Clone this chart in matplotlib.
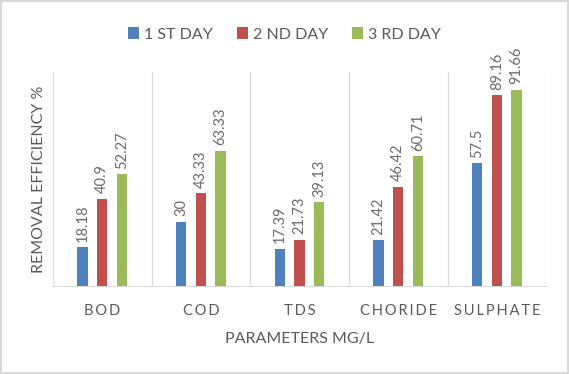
import numpy as np
import matplotlib.pyplot as plt
from matplotlib.patches import Rectangle

categories = ["BOD", "COD", "TDS", "CHORIDE", "SULPHATE"]
series_names = ["1 ST DAY", "2 ND DAY", "3 RD DAY"]
day1 = [18.18, 30, 17.39, 21.42, 57.5]
day2 = [40.9, 43.33, 21.73, 46.42, 89.16]
day3 = [52.27, 63.33, 39.13, 60.71, 91.66]
labels1 = ["18.18", "30", "17.39", "21.42", "57.5"]
labels2 = ["40.9", "43.33", "21.73", "46.42", "89.16"]
labels3 = ["52.27", "63.33", "39.13", "60.71", "91.66"]

colors = ["#4F81BD", "#C0504D", "#9BBB59"]
gray = "#595959"
plt.rcParams['font.family'] = ['Lato', 'DejaVu Sans']

fig = plt.figure(figsize=(5.69, 3.74), dpi=100)
ax = fig.add_axes([0.093, 0.235, 0.867, 0.572])

x = np.arange(len(categories))
width = 0.105
offset = 0.2
for i, (vals, labs) in enumerate(zip([day1, day2, day3], [labels1, labels2, labels3])):
    pos = x + (i - 1) * offset
    ax.bar(pos, vals, width, color=colors[i], label=series_names[i], zorder=3)
    for px, v, t in zip(pos, vals, labs):
        ax.annotate(t, (px, v), xytext=(0, 4), textcoords="offset points",
                    rotation=90, ha="center", va="bottom", color="#6A6A6A", fontsize=10.5)

ax.set_xlim(-0.5, len(categories) - 0.5)
ax.set_ylim(0, 100)
for b in np.arange(-0.5, len(categories), 1.0):
    ax.axvline(b, color="#D9D9D9", lw=0.9, zorder=1)

for s in ["top", "right", "left"]:
    ax.spines[s].set_visible(False)
ax.spines["bottom"].set_color("#D9D9D9")
ax.set_yticks([])
ax.set_xticks(x)
ax.set_xticklabels(["\u2009".join(c) for c in categories], color=gray, fontsize=10.5)
ax.tick_params(axis="x", length=0, pad=13)
ax.set_xlabel("PARAMETERS MG/L", color=gray, fontsize=11.5, labelpad=10)
ax.set_ylabel("REMOVAL EFFICIENCY %", color=gray, fontsize=11.5, labelpad=5)

fig.legend(loc="upper center", bbox_to_anchor=(0.5, 0.965), ncol=3, frameon=False,
           fontsize=11.5, handlelength=0.7, handleheight=0.7, handletextpad=0.3,
           columnspacing=1.5, labelcolor=gray)

fig.patches.append(Rectangle((0.002, 0.003), 0.996, 0.994, transform=fig.transFigure,
                             fill=False, edgecolor="#D9D9D9", lw=1.5))

fig.savefig("out.png", dpi=100)
